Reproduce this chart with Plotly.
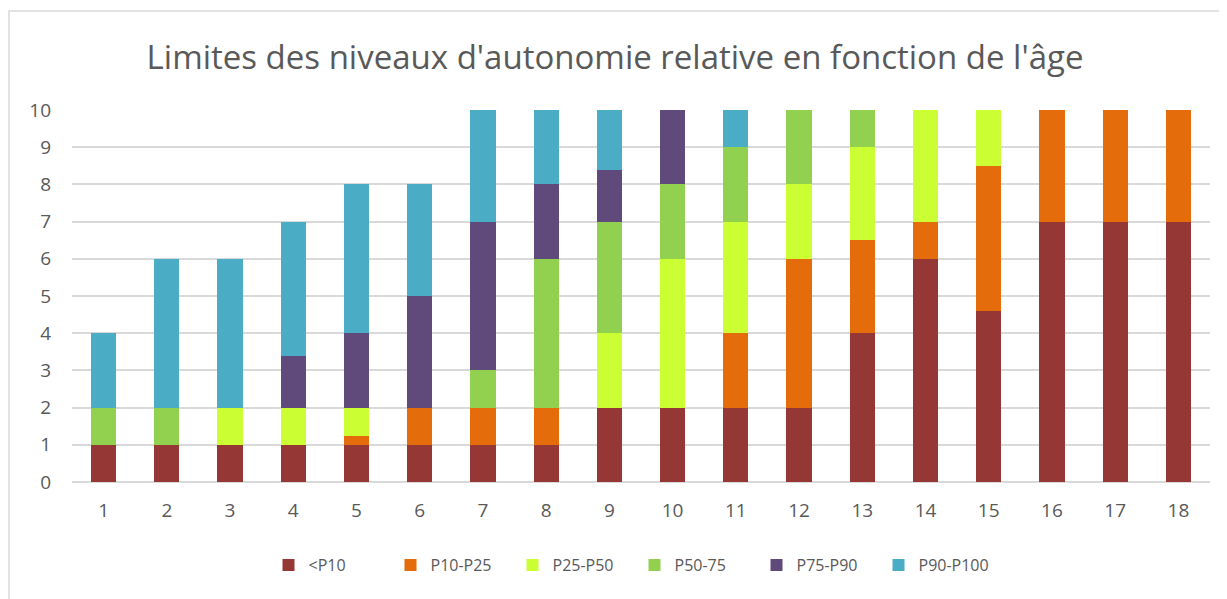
import plotly.graph_objects as go

ages = [str(i) for i in range(1, 19)]
series_names = ["<P10", "P10-P25", "P25-P50", "P50-75", "P75-P90", "P90-P100"]
p10 = [1, 1, 1, 1, 1, 1, 1, 1, 2, 2, 2, 2, 4, 6, 4.6, 7, 7, 7]
p10_25 = [0, 0, 0, 0, 0.25, 1, 1, 1, 0, 0, 2, 4, 2.5, 1, 3.9, 3, 3, 3]
p25_50 = [0, 0, 1, 1, 0.75, 0, 0, 0, 2, 4, 3, 2, 2.5, 3, 1.5, 0, 0, 0]
p50_75 = [1, 1, 0, 0, 0, 0, 1, 4, 3, 2, 2, 2, 1, 0, 0, 0, 0, 0]
p75_90 = [0, 0, 0, 1.4, 2, 3, 4, 2, 1.4, 2, 0, 0, 0, 0, 0, 0, 0, 0]
p90_100 = [2, 4, 4, 3.6, 4, 3, 3, 2, 1.6, 0, 1, 0, 0, 0, 0, 0, 0, 0]
colors = ["#953735", "#E46C0A", "#CCFF33", "#92D050", "#604A7B", "#4BACC6"]
y_ticks = list(range(0, 11))

series_values = [p10, p10_25, p25_50, p50_75, p75_90, p90_100]

fig = go.Figure()
for name, vals, col in zip(series_names, series_values, colors):
    fig.add_trace(go.Bar(x=ages, y=vals, name=name, marker_color=col,
                         marker_line_width=0))

W, H = 1219, 591
L, R, T, B = 64, 17, 102, 117
PW, PH = W - L - R, H - T - B

font_fam = "Open Sans, Lato, sans-serif"
fig.update_layout(
    barmode="stack",
    bargap=0.6,
    width=W, height=H,
    margin=dict(l=L, r=R, t=T, b=B, autoexpand=False),
    paper_bgcolor="white", plot_bgcolor="white",
    title=dict(text="Limites des niveaux d'autonomie relative en fonction de l'âge",
               x=607 / W, xanchor="center", y=1 - 49 / H, yanchor="middle",
               font=dict(family=font_fam, size=33, color="#595959")),
    font=dict(family=font_fam, size=15, color="#595959"),
    legend=dict(orientation="h", x=(626.5 - L) / PW, xanchor="center",
                y=-(557 - 474) / PH, yanchor="middle",
                font=dict(size=16, color="#595959"),
                entrywidth=77, entrywidthmode="pixels",
                traceorder="normal"),
    showlegend=True,
)
fig.update_xaxes(showgrid=False, showline=False, ticks="", type="category",
                 tickfont=dict(size=19, color="#595959"), ticklabelstandoff=15)
fig.update_yaxes(range=[0, 10], tickvals=y_ticks, showgrid=True,
                 gridcolor="#D9D9D9", gridwidth=1.5, zeroline=True,
                 zerolinecolor="#D9D9D9", zerolinewidth=1.5, ticks="",
                 tickfont=dict(size=19, color="#595959"), ticklabelstandoff=20)
fig.add_shape(type="rect", xref="paper", yref="paper",
              x0=(1 - L) / PW, x1=(W + 20 - L) / PW,
              y0=(T + PH - H - 20) / PH, y1=(T + PH - 3) / PH,
              line=dict(color="#D9D9D9", width=1.5), fillcolor="rgba(0,0,0,0)",
              layer="below")
fig.write_html("out.html")
